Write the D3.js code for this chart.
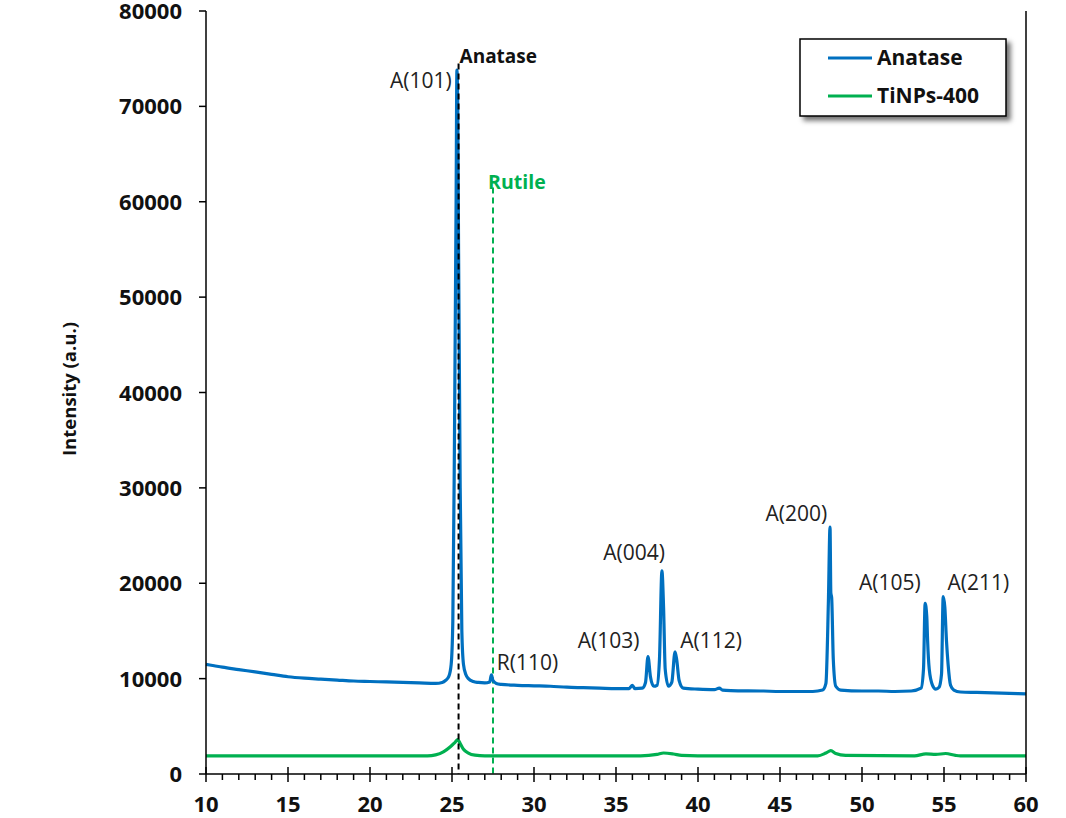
<!DOCTYPE html>
<html lang="en">
<head>
  <meta charset="UTF-8">
  <title>XRD pattern: Anatase vs TiNPs-400</title>
  <script src="https://d3js.org/d3.v7.min.js"></script>
  <style>
    body { margin: 0; background: #fff; }
    svg { display: block; font-family: "Open Sans", Arial, sans-serif; }
    .tick-lbl { font-size: 22px; font-weight: bold; fill: #111; }
    .peak-lbl { font-size: 21px; fill: #222; }
    .legend-lbl { font-size: 21px; font-weight: bold; fill: #111; }
  </style>
</head>
<body>
<svg id="chart" width="1066" height="818"></svg>
<script>
  // 2θ / intensity pairs
  const anataseTheta = [10, 10.5, 11, 12, 13, 14, 15, 16, 17, 18, 19, 20, 21, 22, 23, 24, 24.4, 24.6, 24.8, 24.95,
    25.05, 25.15, 25.25, 25.3, 25.35, 25.4, 25.5, 25.6, 25.7, 25.85, 26, 26.3, 26.6, 27, 27.3, 27.4, 27.5, 27.7,
    28, 29, 30, 31, 32, 33, 34, 35, 35.8, 36, 36.15, 36.6, 36.8, 36.95, 37.1, 37.3, 37.5, 37.65, 37.8, 37.9, 38,
    38.2, 38.4, 38.6, 38.7, 38.85, 39.1, 40, 41, 41.3, 41.5, 42, 44, 45, 46, 47, 47.6, 47.8, 47.95, 48.05, 48.1,
    48.15, 48.25, 48.4, 48.7, 50, 51, 52, 53, 53.6, 53.75, 53.85, 53.95, 54, 54.1, 54.3, 54.5, 54.7, 54.85, 54.95,
    55.05, 55.15, 55.25, 55.4, 55.6, 56, 57, 58, 59, 60];
  const anataseI = [11500, 11350, 11200, 10950, 10700, 10450, 10200, 10050, 9950, 9850, 9750, 9700, 9650, 9600, 9550, 9500, 9600, 9800, 10200, 11500,
    16000, 35000, 60000, 73800, 70000, 55000, 30000, 15000, 11500, 10400, 10000, 9700, 9600, 9550, 9650, 10400, 9800, 9500,
    9400, 9300, 9250, 9200, 9100, 9050, 9000, 8950, 8950, 9300, 8950, 9000, 9600, 12300, 10200, 9200, 9300, 12000, 21300, 17500, 11000,
    9200, 9600, 12800, 12000, 9800, 9000, 8900, 8850, 9000, 8800, 8750, 8700, 8650, 8650, 8650, 8800, 9500, 18000, 25900, 19000,
    18500, 12000, 9200, 8800, 8700, 8700, 8650, 8700, 9000, 11000, 17900, 16500, 14000, 11000, 9300, 8900, 9100, 10500, 18600,
    17500, 14000, 11500, 9300, 8800, 8600, 8550, 8500, 8450, 8400];

  const tinpsTheta = [10, 20, 23.5, 24, 24.5, 24.9, 25.2, 25.35, 25.5, 25.7, 26, 26.4, 27, 36.5, 37.5, 37.9, 38.5, 39, 40,
    47.3, 47.8, 48.1, 48.4, 49, 53.2, 53.9, 54.5, 55.1, 55.7, 56, 60];
  const tinpsI = [1900, 1900, 1900, 2000, 2350, 2850, 3350, 3600, 3200, 2600, 2200, 1980, 1900, 1900, 2050, 2200, 2100, 1950, 1900,
    1900, 2200, 2450, 2150, 1950, 1900, 2100, 2050, 2150, 1950, 1900, 1900];

  const xTicks = [10, 15, 20, 25, 30, 35, 40, 45, 50, 55, 60];
  const yTicks = [0, 10000, 20000, 30000, 40000, 50000, 60000, 70000, 80000];

  const peakLabels = ["A(101)", "R(110)", "A(103)", "A(004)", "A(112)", "A(200)", "A(105)", "A(211)"];
  const peakLabelX = [23.1, 29.6, 34.55, 36.1, 40.8, 46.0, 51.7, 57.1];
  const peakLabelY = [71900, 10900, 13200, 22400, 13200, 26500, 19300, 19300];

  const refLines = [
    { name: "Anatase", theta: 25.4, top: 74500, color: "#000" },
    { name: "Rutile", theta: 27.5, top: 61500, color: "#00B050" }
  ];

  const series = [
    { name: "Anatase", color: "#0070C0", theta: anataseTheta, vals: anataseI },
    { name: "TiNPs-400", color: "#00B050", theta: tinpsTheta, vals: tinpsI }
  ];

  const margin = { top: 11, left: 206 };
  const width = 820, height = 763;
  const svg = d3.select("#chart");

  const defs = svg.append("defs");
  defs.append("filter").attr("id", "shadow")
    .attr("x", "-10%").attr("y", "-10%").attr("width", "130%").attr("height", "140%")
    .append("feDropShadow")
      .attr("dx", 4).attr("dy", 4).attr("stdDeviation", 2.5)
      .attr("flood-color", "#000").attr("flood-opacity", 0.55);

  const x = d3.scaleLinear().domain([10, 60]).range([0, width]);
  const y = d3.scaleLinear().domain([0, 80000]).range([height, 0]);

  const g = svg.append("g").attr("transform", `translate(${margin.left},${margin.top})`);

  // green rutile reference line (behind curves)
  g.append("line")
    .attr("x1", x(refLines[1].theta)).attr("x2", x(refLines[1].theta))
    .attr("y1", y(refLines[1].top)).attr("y2", height)
    .attr("stroke", refLines[1].color).attr("stroke-width", 2)
    .attr("stroke-dasharray", "6,4");

  // curves
  const line = d3.line().x(d => x(d[0])).y(d => y(d[1])).curve(d3.curveMonotoneX);
  series.slice().reverse().forEach(s => {
    g.append("path")
      .datum(d3.zip(s.theta, s.vals))
      .attr("fill", "none")
      .attr("stroke", s.color)
      .attr("stroke-width", 3.2)
      .attr("stroke-linejoin", "round")
      .attr("d", line);
  });
  // black dashed line drawn over the curve like the reference
  g.append("line")
    .attr("x1", x(refLines[0].theta)).attr("x2", x(refLines[0].theta))
    .attr("y1", y(refLines[0].top)).attr("y2", height)
    .attr("stroke", refLines[0].color).attr("stroke-width", 2)
    .attr("stroke-dasharray", "6,4");

  // reference labels
  g.append("text").attr("x", x(25.4) + 1).attr("y", y(74600))
    .style("font-size", "19px").style("font-weight", "bold").attr("fill", "#111")
    .text(refLines[0].name);
  g.append("text").attr("x", x(27.2)).attr("y", y(61300))
    .style("font-size", "19.5px").style("font-weight", "bold").attr("fill", "#00B050")
    .text(refLines[1].name);

  // peak labels
  g.selectAll(".peak-lbl").data(peakLabels).enter().append("text")
    .attr("class", "peak-lbl")
    .attr("x", (d, i) => x(peakLabelX[i]))
    .attr("y", (d, i) => y(peakLabelY[i]))
    .attr("text-anchor", "middle")
    .text(d => d);

  // x axis
  const xAxis = g.append("g").attr("transform", `translate(0,${height})`);
  xAxis.append("line").attr("x1", 0).attr("x2", width).attr("stroke", "#000").attr("stroke-width", 1.5);
  xAxis.selectAll(".minor").data(d3.range(10, 61, 1).filter(v => v % 5 !== 0)).enter().append("line")
    .attr("x1", d => x(d)).attr("x2", d => x(d)).attr("y1", 0).attr("y2", 6)
    .attr("stroke", "#000").attr("stroke-width", 1.5);
  xAxis.selectAll(".major").data(xTicks).enter().append("line")
    .attr("x1", d => x(d)).attr("x2", d => x(d)).attr("y1", -7).attr("y2", 8)
    .attr("stroke", "#000").attr("stroke-width", 1.5);
  xAxis.selectAll(".tick-lbl").data(xTicks).enter().append("text")
    .attr("class", "tick-lbl")
    .attr("x", d => x(d)).attr("y", 38)
    .attr("text-anchor", "middle")
    .text(d => d);

  // y axis
  const yAxis = g.append("g");
  yAxis.append("line").attr("y1", 0).attr("y2", height).attr("stroke", "#000").attr("stroke-width", 1.5);
  yAxis.selectAll(".major").data(yTicks).enter().append("line")
    .attr("x1", -7).attr("x2", 0).attr("y1", d => y(d)).attr("y2", d => y(d))
    .attr("stroke", "#000").attr("stroke-width", 1.5);
  yAxis.selectAll(".tick-lbl").data(yTicks).enter().append("text")
    .attr("class", "tick-lbl")
    .attr("x", -24).attr("y", d => y(d) + 8)
    .attr("text-anchor", "end")
    .text(d => d);

  // right border
  g.append("line").attr("x1", width).attr("x2", width).attr("y1", 0).attr("y2", height)
    .attr("stroke", "#000").attr("stroke-width", 1.5);

  // y title
  svg.append("text")
    .attr("transform", `translate(76,${margin.top + 378}) rotate(-90)`)
    .attr("text-anchor", "middle")
    .style("font-size", "18.5px").style("font-weight", "bold").attr("fill", "#111")
    .text("Intensity (a.u.)");

  // legend
  const lg = svg.append("g").attr("transform", "translate(800,39)");
  lg.append("rect").attr("width", 206).attr("height", 77)
    .attr("fill", "#fff").attr("stroke", "#000").attr("stroke-width", 1.5)
    .attr("filter", "url(#shadow)");
  series.forEach((s, i) => {
    const yy = 19 + i * 38;
    lg.append("line").attr("x1", 28).attr("x2", 72).attr("y1", yy).attr("y2", yy)
      .attr("stroke", s.color).attr("stroke-width", 3);
    lg.append("text").attr("class", "legend-lbl").attr("x", 77).attr("y", yy + 7).text(s.name);
  });
</script>
</body>
</html>
